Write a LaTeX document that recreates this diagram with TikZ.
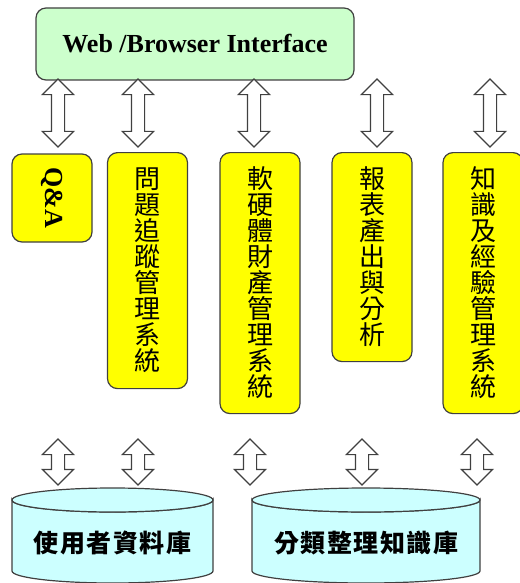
\documentclass[tikz,border=0pt]{standalone}
\usepackage{fontspec}
\setmainfont{Liberation Serif}
\newfontfamily\cjk{Noto Sans CJK TC}
\usetikzlibrary{shapes.arrows}

\definecolor{webgreen}{HTML}{CCFFCC}
\definecolor{sysyellow}{HTML}{FFFF00}
\definecolor{dbcyan}{HTML}{CCFFFF}
\definecolor{edgegray}{HTML}{404040}

\tikzset{
  webbox/.style={draw=edgegray, line width=1.2pt, fill=webgreen,
    rounded corners=10pt, minimum width=318pt, minimum height=72pt,
    font=\fontsize{26}{30}\selectfont\bfseries},
  sysbox/.style={draw=edgegray, line width=1.2pt, fill=sysyellow,
    rounded corners=10pt, minimum width=80pt, anchor=north, align=center,
    font=\cjk\fontsize{26}{26}\selectfont},
  dblarrow/.style={draw=edgegray, line width=1.2pt, fill=white,
    double arrow, rotate=90, inner xsep=0pt, inner ysep=6pt,
    double arrow head extend=9pt},
  dbase/.style={draw=edgegray, line width=1.2pt, fill=dbcyan},
  dblabel/.style={font=\cjk\bfseries\fontsize{25}{26}\selectfont\addfontfeature{LetterSpace=6}}
}

\begin{document}
\begin{tikzpicture}[x=1pt, y=-1pt]
  \useasboundingbox (0,0) rectangle (519,583);

  %% web front end
  \node[webbox] (web) at (195,44) {Web /Browser Interface};

  %% arrows between front end and the subsystems
  \foreach \x [count=\i] in {58,138,254,377,490}
    \node[dblarrow, minimum height=68pt] (up\i) at (\x,113) {};

  %% subsystems
  \node[sysbox, rotate=-90, anchor=center, minimum width=88pt,
    minimum height=80pt, font=\fontsize{26}{30}\selectfont\bfseries]
    (qa) at (52,198) {Q\&A};
  \node[sysbox, minimum height=236pt] (track) at (147.5,152)
    {問\\題\\追\\蹤\\管\\理\\系\\統};
  \node[sysbox, minimum height=261pt] (asset) at (260,152)
    {軟\\硬\\體\\財\\產\\管\\理\\系\\統};
  \node[sysbox, minimum height=209pt] (report) at (372,152)
    {報\\表\\產\\出\\與\\分\\析};
  \node[sysbox, minimum height=261pt] (know) at (483,152)
    {知\\識\\及\\經\\驗\\管\\理\\系\\統};

  %% arrows down to the databases
  \foreach \x [count=\i] in {58,138,250,362,477}
    \node[dblarrow, minimum height=46pt] (dn\i) at (\x,462) {};

  %% databases (cylinders)
  \foreach \cx/\rx in {112.5/100.5, 366/114} {
    \draw[dbase] (\cx-\rx,500) -- (\cx-\rx,571)
      arc[start angle=180, end angle=0, x radius=\rx, y radius=12]
      -- (\cx+\rx,500)
      arc[start angle=0, end angle=180, x radius=\rx, y radius=12] -- cycle;
    \draw[dbase] (\cx,500) ellipse[x radius=\rx, y radius=12];
  }
  \node[dblabel] (userdb) at (112.5,543) {使用者資料庫};
  \node[dblabel] (kbdb) at (366,543) {分類整理知識庫};

\end{tikzpicture}
\end{document}
